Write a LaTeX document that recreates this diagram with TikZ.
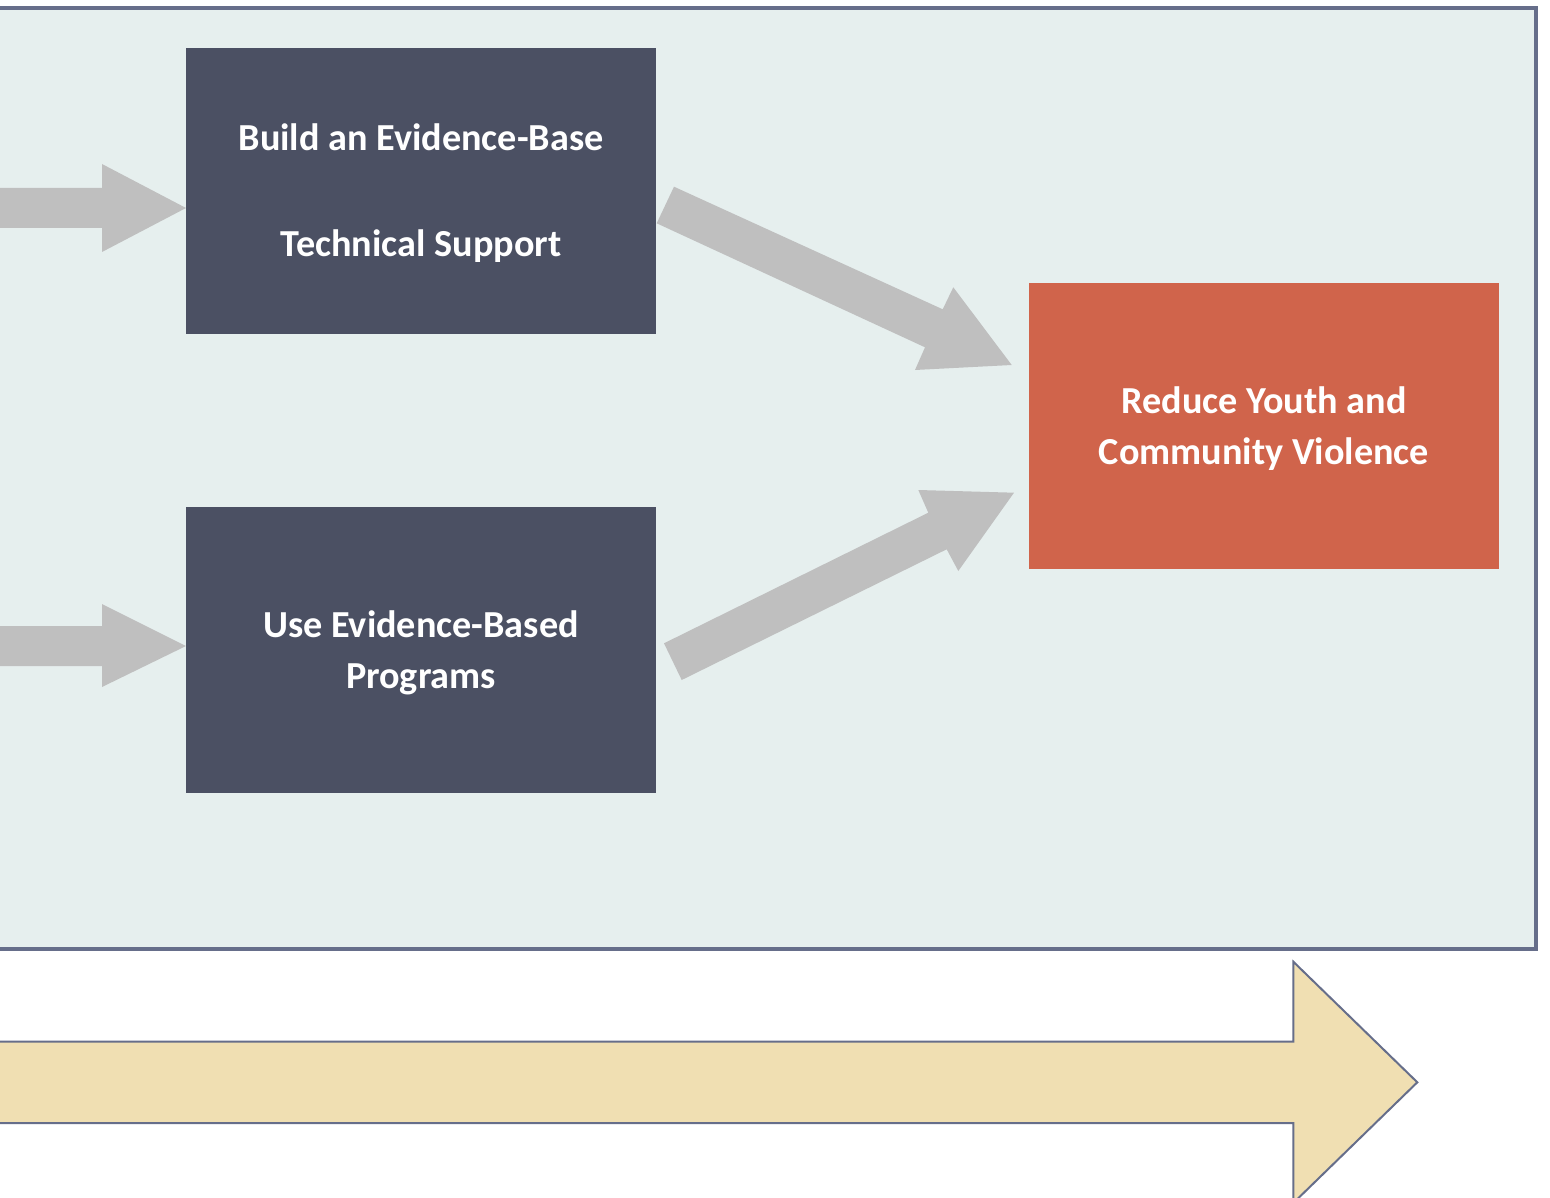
\documentclass[tikz,border=0pt]{standalone}
\usepackage{fontspec}
\setmainfont{Carlito}
\definecolor{frameC}{HTML}{666E8A}
\definecolor{panelC}{HTML}{E6EFEE}
\definecolor{boxC}{HTML}{4B5063}
\definecolor{redC}{HTML}{D0644B}
\definecolor{grayC}{HTML}{BFBFBF}
\definecolor{tanC}{HTML}{F0DFB2}
\tikzset{
  blockbox/.style={fill=boxC, minimum width=470pt, minimum height=286pt, inner sep=0pt, anchor=north west},
  goalbox/.style={fill=redC, minimum width=470pt, minimum height=286pt, inner sep=0pt, anchor=north west},
  lbl/.style={text=white, font=\fontsize{38.2}{44}\selectfont\bfseries, inner sep=0pt},
  grayarrow/.style={fill=grayC, draw=none},
}
\begin{document}
\begin{tikzpicture}[x=1pt,y=-1pt]
\useasboundingbox (0,0) rectangle (1550,1198);
\clip (0,0) rectangle (1550,1198);
\fill[white] (0,0) rectangle (1550,1198);
% panel
\draw[frameC, line width=4pt, fill=panelC] (-20,8.5) rectangle (1535.5,949);
% boxes
\node[blockbox] (b1) at (186,48) {};
\node[blockbox] (b2) at (186,507) {};
\node[goalbox] (g) at (1029,283) {};
% labels
\node[lbl] (t1) at (421,137) {Build an Evidence-Base};
\node[lbl] (t2) at (421,246) {Technical Support};
\node[lbl] (t3) at (421,624) {Use Evidence-Based};
\node[lbl] (t4) at (421,679) {Programs};
\node[lbl] (t5) at (1264,400) {Reduce Youth and};
\node[lbl] (t6) at (1264,454) {Community Violence};
% left arrows
\fill[grayarrow] (-5,188) -- (102,188) -- (102,164) -- (b1.west |- 0,208) -- (102,252) -- (102,228) -- (-5,228) -- cycle;
\fill[grayarrow] (-5,626) -- (102,626) -- (102,604) -- (b2.west |- 0,646) -- (102,687) -- (102,666) -- (-5,666) -- cycle;
% diagonal arrows
\fill[grayarrow] (674,186.7) -- (942.7,309.3) -- (953.3,287.3) -- (1011.7,365) -- (915,370) -- (925,347.3) -- (656.7,223.3) -- cycle;
\fill[grayarrow] (681.7,680) -- (946.7,549.3) -- (958.3,571) -- (1014,492.7) -- (918.3,490) -- (928.3,512.7) -- (664,643.3) -- cycle;
% timeline arrow
\draw[frameC, line width=2pt, fill=tanC] (-20,1041.5) -- (1293.3,1041.5) -- (1293.3,961.7) -- (1417.3,1082.3) -- (1293.3,1203) -- (1293.3,1123) -- (-20,1123) -- cycle;
\end{tikzpicture}
\end{document}
